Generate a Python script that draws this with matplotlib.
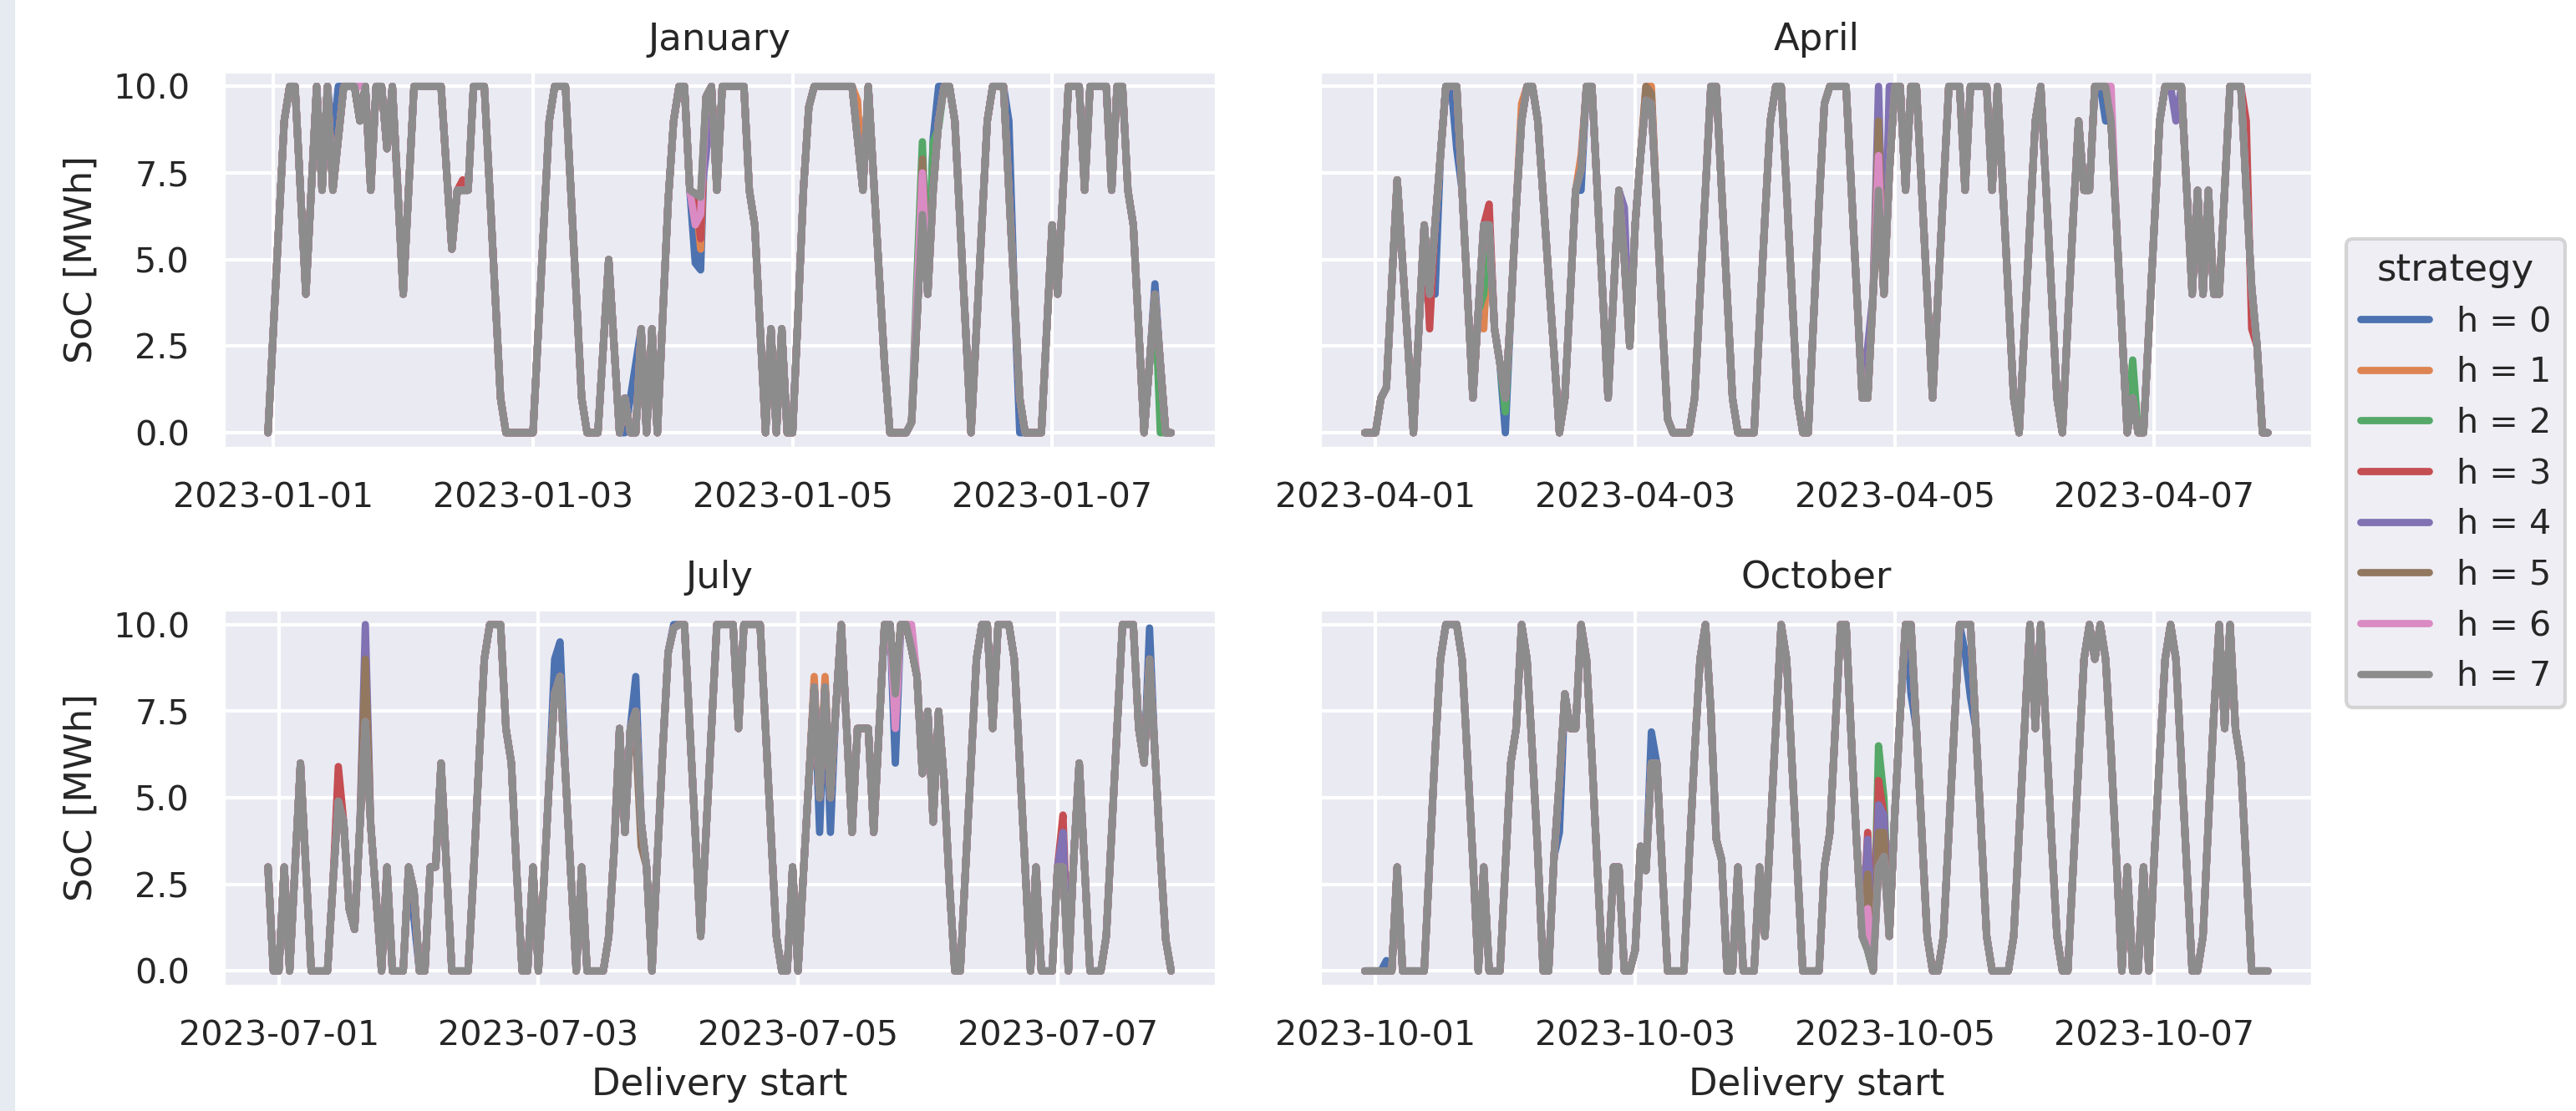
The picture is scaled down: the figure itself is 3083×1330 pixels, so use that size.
import matplotlib
matplotlib.use("Agg")
import matplotlib.pyplot as plt
import matplotlib.dates as mdates
from matplotlib.ticker import FormatStrFormatter
from matplotlib.patches import Rectangle
import numpy as np
import pandas as pd
import seaborn as sns

# ---------------- data ----------------
months = ["January", "April", "July", "October"]
starts = ["2022-12-31 23:00", "2023-03-31 22:00", "2023-06-30 22:00", "2023-09-30 22:00"]
strategies = [f"h = {k}" for k in range(8)]
y_ticks = [0.0, 2.5, 5.0, 7.5, 10.0]

# SoC of strategy h = 7 (hourly, 168 values per month)
soc_jan = [0, 3, 6, 9, 10, 10, 7, 4, 7, 10,
           7, 10, 7, 8.5, 10, 10, 10, 9, 10, 7,
           10, 10, 8.2, 10, 7, 4, 7, 10, 10, 10,
           10, 10, 10, 7.6, 5.3, 7, 7, 7, 10, 10,
           10, 7, 4, 1, 0, 0, 0, 0, 0, 0,
           3, 6, 9, 10, 10, 10, 7, 4, 1, 0,
           0, 0, 2.5, 5, 2.5, 0, 1, 0, 0, 3,
           0, 3, 0, 3.4, 6.7, 9, 10, 10, 7, 6.9,
           6.8, 9.7, 10, 7, 10, 10, 10, 10, 10, 7,
           6, 3, 0, 3, 0, 3, 0, 0, 3.4, 7,
           9.4, 10, 10, 10, 10, 10, 10, 10, 10, 8.5,
           7, 10, 7.3, 4.6, 2, 0, 0, 0, 0, 0.3,
           3.3, 6.3, 4, 7, 9, 10, 10, 9, 6, 3,
           0, 3, 6, 9, 10, 10, 10, 7, 4, 1,
           0, 0, 0, 0, 3, 6, 4, 7, 10, 10,
           10, 7, 10, 10, 10, 10, 7, 10, 10, 7,
           6, 3, 0, 2, 4, 2, 0, 0]

soc_apr = [0, 0, 0, 1, 1.3, 4.3, 7.3, 4.9, 2.5, 0,
           3, 6, 4, 6, 8, 10, 10, 10, 7, 4,
           1, 3.5, 6, 6, 3, 2, 1, 3.5, 6.5, 9,
           10, 10, 9, 6.8, 4.5, 2.3, 0, 1, 4, 7,
           7.6, 10, 10, 7, 4, 1, 4, 7, 5, 2.5,
           6, 8, 9.6, 9.5, 6.5, 3.3, 0.4, 0, 0, 0,
           0, 1, 4, 7, 10, 10, 7, 4, 1, 0,
           0, 0, 0, 3.2, 6.2, 9, 10, 10, 7, 4,
           1, 0, 0, 3.3, 6.6, 9.5, 10, 10, 10, 10,
           7, 4, 1, 1, 4, 7, 4, 7.5, 10, 10,
           7, 10, 10, 7, 4, 1, 4, 7, 10, 10,
           10, 7, 10, 10, 10, 10, 7, 10, 7, 4,
           1, 0, 3, 6, 9, 10, 7, 4, 1, 0,
           3.2, 6.2, 9, 7, 7, 10, 10, 10, 9, 6,
           3, 0, 1, 0, 0, 3, 6, 9, 10, 10,
           10, 10, 7, 4, 7, 4, 7, 4, 4, 7,
           10, 10, 10, 7, 4.2, 2.5, 0, 0]

soc_jul = [3, 0, 0, 3, 0, 3, 6, 3, 0, 0,
           0, 0, 2.5, 4.9, 4.3, 1.8, 1.2, 4.2, 7.2, 4.2,
           2.1, 0, 3, 0, 0, 0, 3, 2.3, 0, 0,
           3, 3, 6, 3, 0, 0, 0, 0, 2.8, 6,
           9, 10, 10, 10, 7, 6, 2.8, 0, 0, 3,
           0, 2.5, 5.5, 8, 8.5, 5.7, 2.8, 0, 3, 0,
           0, 0, 0, 1, 3.5, 7, 4, 7, 7.5, 4.3,
           3, 0, 3.3, 6.4, 9.2, 9.9, 10, 10, 7, 4,
           1, 4, 7, 10, 10, 10, 10, 7, 10, 10,
           10, 10, 7, 4, 1, 0, 0, 3, 0, 2.8,
           5.5, 8.2, 5, 8.2, 5, 7.6, 10, 7, 4, 7,
           7, 7, 4, 7, 10, 10, 8, 10, 10, 9.3,
           8.5, 5.7, 7.5, 4.3, 7.5, 5.5, 2.5, 0, 0, 3,
           6, 9, 10, 10, 7, 10, 10, 10, 9, 6,
           3, 0, 3, 0, 0, 0, 3, 3, 0, 3.3,
           6, 3, 0, 0, 0, 1, 4, 7, 10, 10,
           10, 7, 6, 9, 6.3, 3.4, 0.9, 0]

soc_oct = [0, 0, 0, 0, 0, 0, 3, 0, 0, 0,
           0, 0, 3.2, 6.3, 9, 10, 10, 10, 9, 6.1,
           3.2, 0, 3, 0, 0, 0, 3, 6, 7, 10,
           9, 6.3, 3.4, 0, 0, 3.3, 5.5, 8, 7, 7,
           10, 9, 6.2, 3, 0, 0, 3, 3, 0, 0,
           0.6, 3.6, 2.9, 6, 6, 3, 0, 0, 0, 0,
           3.3, 6.3, 9, 10, 7.5, 3.8, 3.2, 0, 0, 3,
           0, 0, 0, 3, 1, 4, 7, 10, 9, 6,
           3, 0, 0, 0, 0, 3, 4, 7, 10, 10,
           6.6, 3.6, 1, 0.6, 0, 3, 3.3, 1, 4.5, 7.4,
           10, 10, 7, 4, 1, 0, 0, 1, 4, 7,
           10, 10, 10, 7, 4, 1, 0, 0, 0, 0,
           1, 4, 7, 10, 7, 10, 6.9, 3.8, 1, 0,
           0, 3, 6, 9, 10, 9, 10, 9, 6.3, 3.2,
           0, 3, 0, 0, 3, 0, 3.3, 6.2, 9, 10,
           9, 6, 3, 0, 0, 1, 4.3, 7.4, 10, 7,
           10, 7, 6, 3, 0, 0, 0, 0]

# hours where strategies h = 0..6 differ from h = 7: {strategy: {hour: SoC}}
dev_jan = {0: {12: 8.4, 13: 10, 66: 0, 67: 1, 68: 2, 79: 4.9, 80: 4.7, 123: 8.5,
               124: 10, 137: 9, 139: 0, 164: 4.3},
           1: {80: 5.3, 109: 9.6},
           2: {79: 6.8, 80: 6.5, 120: 4.5, 121: 8.4, 123: 8.4, 124: 8.8, 165: 0},
           3: {36: 7.3, 80: 5.6},
           4: {81: 8},
           5: {121: 7.9},
           6: {17: 10, 79: 6, 80: 6.3, 120: 4, 121: 7.5}}
dev_apr = {0: {13: 4, 17: 8.2, 26: 0, 40: 7, 137: 9},
           1: {22: 3, 29: 9.5, 40: 8, 52: 10, 53: 10},
           2: {22: 4, 26: 0.6, 142: 2.1},
           3: {12: 3, 23: 6.6, 163: 9, 164: 3},
           4: {48: 6.5, 93: 2.5, 95: 10, 97: 10, 150: 9},
           5: {52: 10, 53: 9.8, 95: 9},
           6: {95: 8, 138: 10, 141: 0}}
dev_jul = {0: {27: 1.5, 53: 9, 54: 9.5, 68: 8.5, 75: 10, 102: 4, 104: 4, 116: 6, 163: 9.9},
           1: {101: 8.5, 103: 8.5},
           3: {13: 5.9, 147: 4.5},
           4: {18: 10, 147: 4},
           5: {18: 9, 68: 6.8, 69: 3.6},
           6: {116: 7, 119: 10}}
dev_oct = {0: {4: 0.3, 36: 4, 53: 6.9, 101: 8, 111: 9.2, 112: 7.9},
           2: {95: 6.5, 96: 5},
           3: {93: 4, 95: 5.5, 96: 4.5},
           4: {93: 3.8, 95: 4.8, 96: 4.5},
           5: {93: 2.8, 95: 4, 96: 4},
           6: {93: 1.8}}

base = [soc_jan, soc_apr, soc_jul, soc_oct]
devs = [dev_jan, dev_apr, dev_jul, dev_oct]

# long-form table
rows = []
for m, st, b, dv in zip(months, starts, base, devs):
    t = pd.date_range(st, periods=len(b), freq="h")
    for k, s in enumerate(strategies):
        vals = list(b)
        for hr, v in dv.get(k, {}).items():
            vals[hr] = v
        rows.append(pd.DataFrame({"month": m, "strategy": s, "time": t, "soc": vals}))
df = pd.concat(rows, ignore_index=True)

# ---------------- plot ----------------
sns.set_theme(style="darkgrid", font_scale=0.9)
plt.rcParams["font.family"] = ["DejaVu Sans"]
colors = sns.color_palette("deep", 8)

W, H = 3083, 1330
fig = plt.figure(figsize=(W / 300, H / 300), dpi=300)
fig.patches.append(Rectangle((0, 0), 16 / W, 1, transform=fig.transFigure,
                             color="#e6ebf1", zorder=-5))

lefts = [266.7 / W, 1579.3 / W]
width = 1189 / W
bottoms = [1 - 536.7 / H, 1 - 1181 / H]
height = 452 / H

handles = []
for idx, m in enumerate(months):
    r, c = divmod(idx, 2)
    ax = fig.add_axes([lefts[c], bottoms[r], width, height])
    sub = df[df["month"] == m]
    for k, s in enumerate(strategies):
        d = sub[sub["strategy"] == s]
        ln, = ax.plot(d["time"].values, d["soc"].values, color=colors[k], lw=2.1,
                      solid_capstyle="round", solid_joinstyle="round", label=s)
        if idx == 0:
            handles.append(ln)
    ax.set_title(m)
    ax.set_yticks(y_ticks)
    ax.set_ylim(-0.45, 10.45)
    ax.yaxis.set_major_formatter(FormatStrFormatter("%.1f"))
    ax.xaxis.set_major_locator(mdates.DayLocator(bymonthday=[1, 3, 5, 7]))
    ax.xaxis.set_major_formatter(mdates.DateFormatter("%Y-%m-%d"))
    if c == 0:
        ax.set_ylabel("SoC [MWh]")
    else:
        ax.set_yticklabels([])
    if r == 1:
        ax.set_xlabel("Delivery start")

leg = fig.legend(handles, strategies, title="strategy", loc="center left",
                 bbox_to_anchor=(2808 / W, 1 - 566 / H), borderaxespad=0,
                 frameon=True)

fig.savefig("out.png", dpi=300)
